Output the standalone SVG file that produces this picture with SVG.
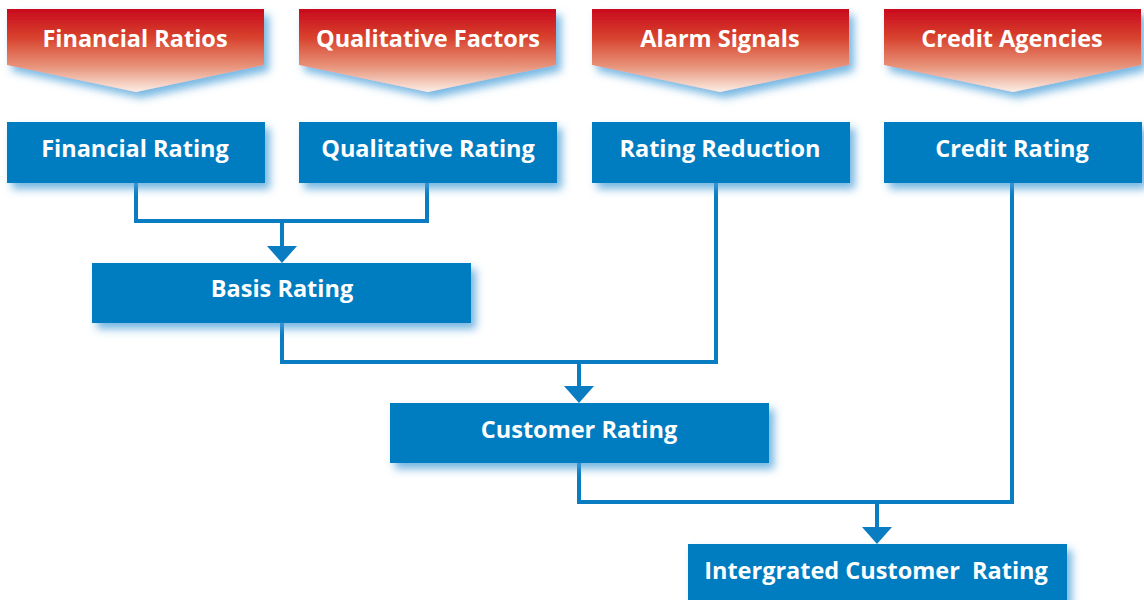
<svg xmlns="http://www.w3.org/2000/svg" width="1144" height="600" viewBox="0 0 1144 600">
<defs>
<linearGradient id="red" x1="0" y1="0" x2="0" y2="1">
<stop offset="0" stop-color="#c90a1e"/>
<stop offset="0.35" stop-color="#d8432e"/>
<stop offset="0.7" stop-color="#e8957c"/>
<stop offset="1" stop-color="#fbeee6"/>
</linearGradient>
<filter id="sh" x="-10%" y="-20%" width="125%" height="160%">
<feGaussianBlur in="SourceAlpha" stdDeviation="4" result="b"/>
<feOffset dx="5" dy="6" in="b" result="o"/>
<feFlood flood-color="#4a9fd8" flood-opacity="0.75"/>
<feComposite in2="o" operator="in" result="s"/>
<feMerge><feMergeNode in="s"/><feMergeNode in="SourceGraphic"/></feMerge>
</filter>
<marker id="arr" viewBox="0 0 17 30" refX="0" refY="15" markerWidth="17" markerHeight="30" markerUnits="userSpaceOnUse" orient="auto">
<path d="M0,0 L17,15 L0,30 Z" fill="#0a7cc2"/>
</marker>
</defs>
<style>
.src{fill:url(#red);filter:url(#sh)}
.box{fill:#007bc0;filter:url(#sh)}
.t{font-family:"Open Sans","Liberation Sans",sans-serif;font-weight:700;font-size:23.5px;fill:#fff;text-anchor:middle;white-space:pre}
.ln{fill:none;stroke:#0a7cc2;stroke-width:4}
</style>
<g id="src-financial-ratios"><path class="src" d="M7,9 H264 V65 L136,92 L7,65 Z"/><text class="t" x="135" y="47">Financial Ratios</text></g>
<g id="src-qualitative-factors"><path class="src" d="M299,9 H556 V65 L428,92 L299,65 Z"/><text class="t" x="428" y="47">Qualitative Factors</text></g>
<g id="src-alarm-signals"><path class="src" d="M592,9 H849 V65 L720,92 L592,65 Z"/><text class="t" x="720" y="47">Alarm Signals</text></g>
<g id="src-credit-agencies"><path class="src" d="M884,9 H1141 V65 L1013,92 L884,65 Z"/><text class="t" x="1012" y="47">Credit Agencies</text></g>
<g id="connectors">
<polyline class="ln" points="136,183 136,221 427,221 427,183"/>
<line class="ln" x1="282" y1="221" x2="282" y2="246" marker-end="url(#arr)"/>
<polyline class="ln" points="282,323 282,362 716,362 716,183"/>
<line class="ln" x1="579" y1="362" x2="579" y2="386" marker-end="url(#arr)"/>
<polyline class="ln" points="579,463 579,502 1012,502 1012,183"/>
<line class="ln" x1="877" y1="502" x2="877" y2="527" marker-end="url(#arr)"/>
</g>
<g id="financial-rating"><rect class="box" x="7" y="122" width="258" height="61"/><text class="t" x="135" y="157">Financial Rating</text></g>
<g id="qualitative-rating"><rect class="box" x="299" y="122" width="258" height="61"/><text class="t" x="428" y="157">Qualitative Rating</text></g>
<g id="rating-reduction"><rect class="box" x="592" y="122" width="258" height="61"/><text class="t" x="720" y="157">Rating Reduction</text></g>
<g id="credit-rating"><rect class="box" x="884" y="122" width="258" height="61"/><text class="t" x="1012" y="157">Credit Rating</text></g>
<g id="basis-rating"><rect class="box" x="92" y="263" width="379" height="60"/><text class="t" x="282" y="297">Basis Rating</text></g>
<g id="customer-rating"><rect class="box" x="390" y="403" width="379" height="60"/><text class="t" x="579" y="438">Customer Rating</text></g>
<g id="integrated-customer-rating"><rect class="box" x="688" y="544" width="379" height="60"/><text class="t" x="876" y="579">Intergrated Customer  Rating</text></g>
</svg>
